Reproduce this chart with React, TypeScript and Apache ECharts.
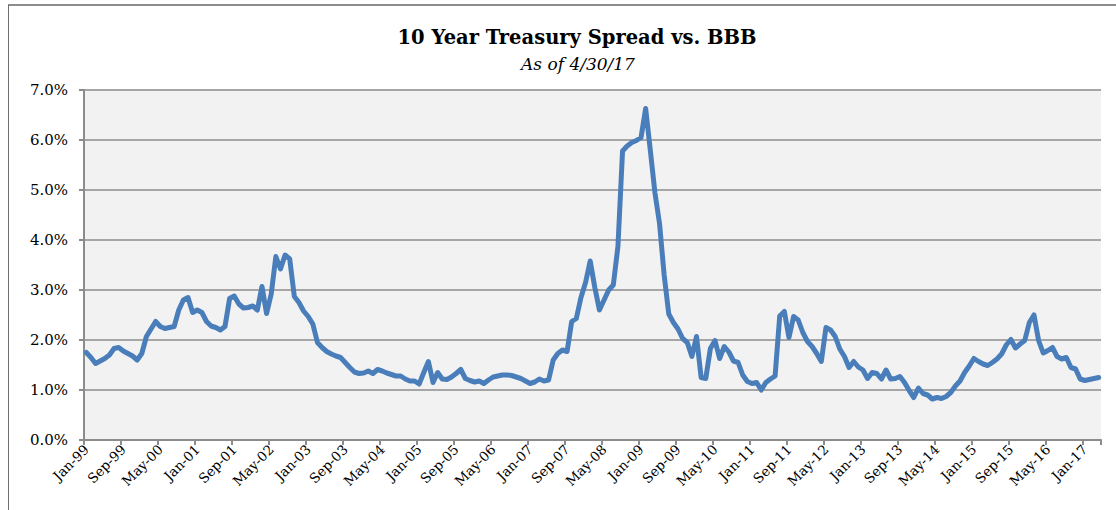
import React, { useEffect, useRef } from "react";
import * as echarts from "echarts";

const MONTHS = ["Jan", "Feb", "Mar", "Apr", "May", "Jun", "Jul", "Aug", "Sep", "Oct", "Nov", "Dec"];
const START_YEAR = 1999;
const MONTH_COUNT = 220; // Jan-99 .. Apr-17

const Y_TICKS = [0, 1, 2, 3, 4, 5, 6, 7];

const spread1999_2002 = [
  1.75, 1.65, 1.53, 1.58, 1.63, 1.70, 1.83, 1.85, 1.78, 1.73, 1.68, 1.60,
  1.73, 2.07, 2.22, 2.37, 2.27, 2.23, 2.25, 2.27, 2.60, 2.80, 2.85, 2.55,
  2.60, 2.55, 2.37, 2.28, 2.25, 2.20, 2.27, 2.83, 2.88, 2.72, 2.64, 2.65,
  2.68, 2.60, 3.07, 2.53, 2.92, 3.67, 3.42, 3.70, 3.62, 2.87, 2.75, 2.58,
];
const spread2003_2006 = [
  2.47, 2.32, 1.95, 1.85, 1.77, 1.72, 1.68, 1.65, 1.55, 1.45, 1.36, 1.33,
  1.34, 1.38, 1.33, 1.41, 1.38, 1.34, 1.31, 1.28, 1.28, 1.22, 1.18, 1.18,
  1.12, 1.35, 1.57, 1.15, 1.35, 1.22, 1.21, 1.26, 1.33, 1.41, 1.23, 1.19,
  1.16, 1.18, 1.13, 1.20, 1.26, 1.28, 1.30, 1.30, 1.29, 1.26, 1.23, 1.18,
];
const spread2007_2010 = [
  1.13, 1.16, 1.22, 1.18, 1.20, 1.60, 1.73, 1.80, 1.77, 2.37, 2.43, 2.85,
  3.15, 3.58, 3.05, 2.60, 2.80, 3.00, 3.10, 3.87, 5.78, 5.88, 5.95, 5.99,
  6.05, 6.63, 5.80, 4.95, 4.33, 3.30, 2.52, 2.35, 2.22, 2.03, 1.95, 1.67,
  2.07, 1.25, 1.23, 1.83, 1.99, 1.63, 1.87, 1.76, 1.58, 1.55, 1.30, 1.17,
];
const spread2011_2014 = [
  1.13, 1.15, 1.00, 1.15, 1.22, 1.28, 2.48, 2.57, 2.05, 2.47, 2.40, 2.15,
  1.97, 1.87, 1.73, 1.57, 2.25, 2.20, 2.07, 1.82, 1.67, 1.45, 1.57, 1.46,
  1.40, 1.23, 1.35, 1.33, 1.22, 1.40, 1.22, 1.23, 1.27, 1.15, 0.99, 0.85,
  1.04, 0.93, 0.90, 0.82, 0.85, 0.83, 0.87, 0.95, 1.08, 1.18, 1.35, 1.48,
];
const spread2015_2017 = [
  1.63, 1.57, 1.52, 1.49, 1.55, 1.62, 1.72, 1.90, 2.01, 1.84, 1.92, 1.99,
  2.35, 2.50, 1.99, 1.74, 1.79, 1.85, 1.67, 1.62, 1.65, 1.45, 1.42, 1.22,
  1.19, 1.21, 1.23, 1.25,
];

const categories: string[] = [];
for (let i = 0; i < MONTH_COUNT; i++) {
  const y = START_YEAR + Math.floor(i / 12);
  categories.push(MONTHS[i % 12] + "-" + String(y % 100).padStart(2, "0"));
}

const values = [
  ...spread1999_2002,
  ...spread2003_2006,
  ...spread2007_2010,
  ...spread2011_2014,
  ...spread2015_2017,
];

const SERIF = "'DejaVu Serif', 'Liberation Serif', serif";

export default function App() {
  const ref = useRef<HTMLDivElement>(null);

  useEffect(() => {
    if (!ref.current) return;
    const chart = echarts.init(ref.current, null, { renderer: "svg" });
    chart.setOption({
      animation: false,
      backgroundColor: "#ffffff",
      title: [
        {
          text: "10 Year Treasury Spread vs. BBB",
          left: 577,
          top: 27,
          textAlign: "center",
          padding: 0,
          textStyle: {
            fontFamily: SERIF,
            fontWeight: "bold",
            fontSize: 19.5,
            color: "#000000",
          },
        },
        {
          text: "As of 4/30/17",
          left: 578,
          top: 55,
          textAlign: "center",
          padding: 0,
          textStyle: {
            fontFamily: SERIF,
            fontStyle: "italic",
            fontWeight: "normal",
            fontSize: 17,
            color: "#000000",
          },
        },
      ],
      graphic: [
        {
          type: "line",
          shape: { x1: 8, y1: 5, x2: 1116, y2: 5 },
          style: { stroke: "#8c8c8c", lineWidth: 2 },
          silent: true,
        },
        {
          type: "line",
          shape: { x1: 8.5, y1: 5, x2: 8.5, y2: 510 },
          style: { stroke: "#6e6e6e", lineWidth: 1 },
          silent: true,
        },
      ],
      grid: {
        left: 84,
        right: 15,
        top: 90,
        bottom: 70,
        show: true,
        backgroundColor: "#f2f2f2",
        borderWidth: 0,
        containLabel: false,
      },
      xAxis: {
        type: "category",
        data: categories,
        boundaryGap: true,
        axisLine: { show: true, lineStyle: { color: "#8c8c8c", width: 2 } },
        axisTick: { show: true, interval: 7, length: 5, lineStyle: { color: "#8c8c8c", width: 2 } },
        axisLabel: {
          interval: 7,
          rotate: 45,
          margin: 7,
          fontFamily: SERIF,
          fontSize: 13.5,
          color: "#000000",
        },
        splitLine: { show: false },
      },
      yAxis: {
        type: "value",
        min: Y_TICKS[0],
        max: Y_TICKS[Y_TICKS.length - 1],
        interval: 1,
        axisLine: { show: true, lineStyle: { color: "#8c8c8c", width: 2 } },
        axisTick: { show: true, length: 5, lineStyle: { color: "#8c8c8c", width: 2 } },
        axisLabel: {
          margin: 16,
          fontFamily: SERIF,
          fontSize: 15,
          color: "#000000",
          formatter: (v: number) => v.toFixed(1) + "%",
        },
        splitLine: { show: true, lineStyle: { color: "#a6a6a6", width: 2 } },
      },
      series: [
        {
          name: "10 Year Treasury Spread vs. BBB",
          type: "line",
          data: values,
          showSymbol: false,
          symbol: "none",
          smooth: false,
          lineStyle: { color: "#4a7ebb", width: 5, join: "round", cap: "round" },
          itemStyle: { color: "#4a7ebb" },
        },
      ],
    });
    return () => chart.dispose();
  }, []);

  return (
    <div
      ref={ref}
      style={{ position: "absolute", left: 0, top: 0, width: 1116, height: 510 }}
    />
  );
}
